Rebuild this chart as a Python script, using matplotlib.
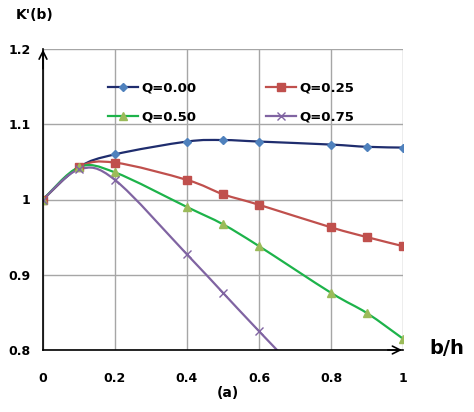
import numpy as np
import matplotlib.pyplot as plt
from matplotlib.path import Path
from matplotlib.patches import PathPatch
from matplotlib.lines import Line2D

# data
b_h = [0, 0.1, 0.2, 0.4, 0.5, 0.6, 0.8, 0.9, 1.0]
k_q000 = [1.000, 1.043, 1.060, 1.077, 1.079, 1.077, 1.073, 1.070, 1.069]
k_q025 = [1.000, 1.043, 1.049, 1.026, 1.007, 0.993, 0.963, 0.950, 0.938]
k_q050 = [1.000, 1.043, 1.036, 0.990, 0.967, 0.938, 0.876, 0.849, 0.815]
b_h_075 = [0, 0.1, 0.2, 0.4, 0.5, 0.6, 0.8]
k_q075 = [1.000, 1.040, 1.026, 0.927, 0.876, 0.825, 0.725]

labels = ['Q=0.00', 'Q=0.25', 'Q=0.50', 'Q=0.75']
x_ticks = [0, 0.2, 0.4, 0.6, 0.8, 1]
x_ticklabels = ['0', '0.2', '0.4', '0.6', '0.8', '1']
y_ticks = [0.8, 0.9, 1.0, 1.1, 1.2]
y_ticklabels = ['0.8', '0.9', '1', '1.1', '1.2']


def smooth_path(x, y):
    # Excel-like smoothed line: cubic bezier through the points
    p = np.column_stack([x, y]).astype(float)
    n = len(p)
    verts = [p[0]]
    codes = [Path.MOVETO]
    for i in range(n - 1):
        p0 = p[i - 1] if i > 0 else p[i]
        p3 = p[i + 2] if i + 2 < n else p[i + 1]
        c1 = p[i] + (p[i + 1] - p0) / 6
        c2 = p[i + 1] - (p3 - p[i]) / 6
        verts += [c1, c2, p[i + 1]]
        codes += [Path.CURVE4] * 3
    return Path(verts, codes)


plt.rcParams['font.family'] = ['DejaVu Sans']
fig = plt.figure(figsize=(4.74, 4.12), dpi=100)
ax = fig.add_axes([43 / 474, 1 - 350 / 412, 360 / 474, 301 / 412])

series = [
    (b_h, k_q000, '#1F2D6E', '#4F81BD', 'D', 4.2),
    (b_h, k_q025, '#C0504D', '#C0504D', 's', 5.2),
    (b_h, k_q050, '#1DB34A', '#9BBB59', '^', 5.8),
    (b_h_075, k_q075, '#8064A2', '#8064A2', 'x', 5.2),
]

handles = []
for (x, y, lc, mc, mk, ms), lab in zip(series, labels):
    ax.add_patch(PathPatch(smooth_path(x, y), fill=False, edgecolor=lc,
                           lw=1.6, zorder=3))
    ax.plot(x, y, linestyle='none', marker=mk, ms=ms, color=mc,
            mec=mc, mew=1.0, zorder=4)
    handles.append(Line2D([], [], color=lc, lw=1.6, marker=mk, ms=ms,
                          mfc=mc, mec=mc, mew=1.0))

ax.set_xlim(0, 1)
ax.set_ylim(0.8, 1.2)
ax.set_xticks(x_ticks)
ax.set_xticklabels(x_ticklabels)
ax.set_yticks(y_ticks)
ax.set_yticklabels(y_ticklabels)
ax.tick_params(length=0, labelsize=9)
ax.tick_params(axis='x', pad=16)
ax.tick_params(axis='y', pad=9)
for t in ax.get_xticklabels() + ax.get_yticklabels():
    t.set_fontweight('bold')

ax.grid(True, color='#A6A6A6', lw=1)
ax.set_axisbelow(True)
for s in ['top', 'right']:
    ax.spines[s].set_visible(False)
for s in ['left', 'bottom']:
    ax.spines[s].set_color('black')
    ax.spines[s].set_linewidth(1.2)
    ax.spines[s].set_zorder(5)

# arrow heads on the axes
ax.annotate('', xy=(0, 1.203), xytext=(0, 1.17), annotation_clip=False,
            arrowprops=dict(arrowstyle='->', color='black', lw=1.2,
                            mutation_scale=14))
ax.annotate('', xy=(1.005, 0.8), xytext=(0.95, 0.8), annotation_clip=False,
            arrowprops=dict(arrowstyle='->', color='black', lw=1.2,
                            mutation_scale=14))

# legend fills by column, so reorder to get Q=0.00 | Q=0.25 on the first row
order = [0, 2, 1, 3]
ax.legend([handles[i] for i in order], [labels[i] for i in order], ncol=2,
          frameon=False, loc='upper left', bbox_to_anchor=(0.147, 0.93),
          columnspacing=5.25, handlelength=2.3, handletextpad=0.25,
          labelspacing=1.2, prop={'weight': 'bold', 'size': 9.5})

fig.text(35 / 474, 1 - 15 / 412, "K'(b)", ha='center', va='center',
         fontsize=10, fontweight='bold')
fig.text(447 / 474, 1 - 348 / 412, 'b/h', ha='center', va='center',
         fontsize=14, fontweight='bold')
fig.text(228 / 474, 1 - 393 / 412, '(a)', ha='center', va='center',
         fontsize=10, fontweight='bold')

fig.savefig('out.png', dpi=100)
